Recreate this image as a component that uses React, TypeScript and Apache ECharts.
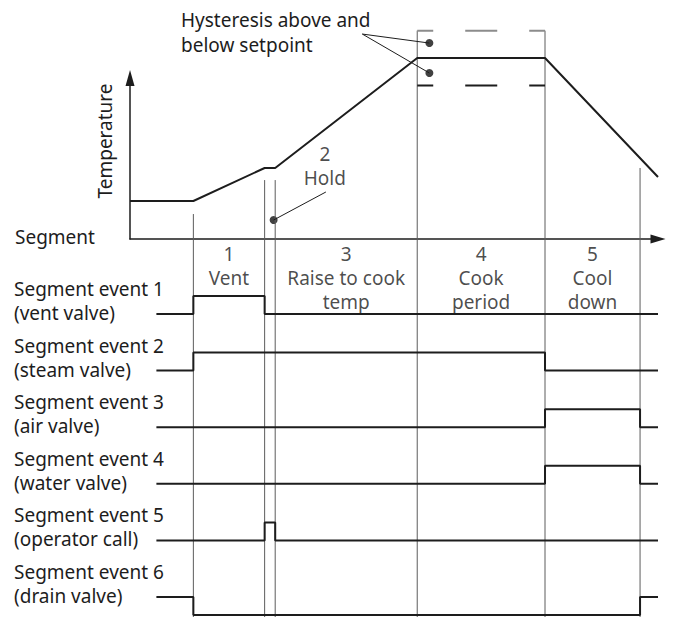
import React, { useEffect, useRef } from 'react';
import * as echarts from 'echarts';

// ---- data ----
// time axis runs 0..100 (arbitrary process time units)
const segmentBounds = [5, 12, 25.5, 27.5, 54.4, 78.6, 96.6, 100];
const tempTimes = [0, 12, 25.5, 27.5, 54.4, 78.6, 100];
const tempValues = [23.6, 23.6, 44.1, 44.1, 112.4, 112.4, 38.5];
const setpoint = 112.4;
const hysteresis = 17;
const hysteresisMarks = [121.7, 103.1];
const hysteresisMarkTime = 56.7;
const holdMark = [27.2, 11.8];
const boundaryTopTemps = [15.5, 36.6, 36.6, 129.4, 129.4, 44.1];

const eventNames = [
  'Segment event 1',
  'Segment event 2',
  'Segment event 3',
  'Segment event 4',
  'Segment event 5',
  'Segment event 6',
];
const eventDevices = [
  '(vent valve)',
  '(steam valve)',
  '(air valve)',
  '(water valve)',
  '(operator call)',
  '(drain valve)',
];
// state per interval between segmentBounds
const eventStates = [
  [0, 1, 0, 0, 0, 0, 0],
  [0, 1, 1, 1, 1, 0, 0],
  [0, 0, 0, 0, 0, 1, 0],
  [0, 0, 0, 0, 0, 1, 0],
  [0, 0, 1, 0, 0, 0, 0],
  [1, 0, 0, 0, 0, 0, 1],
];
const segmentLabels = ['1\nVent', '3\nRaise to cook\ntemp', '4\nCook\nperiod', '5\nCool\ndown'];
const labelledIntervals = [1, 3, 4, 5];
const holdLabel = '2\nHold';
const hysteresisText = ['Hysteresis above and', 'below setpoint'];

// ---- layout ----
const FONT = 'Noto Sans';
const FS = 19;
const INK = '#1d1d1d';
const GRID_INK = '#5c5c5c';
const ROW0 = 75;
const ROW_GAP = 56.6;
const AMP = 18;
const SIG_BOTTOM = 378;

export default function App() {
  const ref = useRef<HTMLDivElement>(null);

  useEffect(() => {
    if (!ref.current) return;
    const chart = echarts.init(ref.current, undefined, { renderer: 'svg' });

    const series: any[] = [];

    // boundary lines
    segmentBounds.slice(1, 7).forEach((t, i) => {
      series.push({
        type: 'line', xAxisIndex: 0, yAxisIndex: 0, clip: false, symbol: 'none', silent: true,
        data: [[t, boundaryTopTemps[i]], [t, 0]],
        lineStyle: { color: GRID_INK, width: 1 },
      });
      series.push({
        type: 'line', xAxisIndex: 1, yAxisIndex: 1, clip: false, symbol: 'none', silent: true,
        data: [[t, 0], [t, SIG_BOTTOM]],
        lineStyle: { color: GRID_INK, width: 1 },
      });
    });

    // hysteresis band (dashed)
    const bandStart = segmentBounds[4];
    const bandEnd = segmentBounds[5];
    [
      { v: setpoint + hysteresis, c: '#8c8c8c' },
      { v: setpoint - hysteresis, c: INK },
    ].forEach((b) => {
      series.push({
        type: 'line', xAxisIndex: 0, yAxisIndex: 0, clip: false, symbol: 'none', silent: true,
        data: [[bandStart, b.v], [bandEnd, b.v]],
        lineStyle: { color: b.c, width: 2, type: [32, 32], dashOffset: 16 },
      });
    });

    // temperature profile
    series.push({
      type: 'line', xAxisIndex: 0, yAxisIndex: 0, clip: false, symbol: 'none', silent: true,
      data: tempTimes.map((t, i) => [t, tempValues[i]]),
      lineStyle: { color: INK, width: 2 },
    });

    // leaders
    const leaderStart = [44, 127.3];
    hysteresisMarks.forEach((v) => {
      series.push({
        type: 'line', xAxisIndex: 0, yAxisIndex: 0, clip: false, symbol: 'none', silent: true,
        data: [leaderStart, [hysteresisMarkTime, v]],
        lineStyle: { color: INK, width: 1 },
      });
    });
    series.push({
      type: 'line', xAxisIndex: 0, yAxisIndex: 0, clip: false, symbol: 'none', silent: true,
      data: [[37.1, 29.2], holdMark],
      lineStyle: { color: INK, width: 1 },
    });
    series.push({
      type: 'scatter', xAxisIndex: 0, yAxisIndex: 0, clip: false, silent: true,
      symbolSize: 8,
      itemStyle: { color: '#111' },
      data: [...hysteresisMarks.map((v) => [hysteresisMarkTime, v]), holdMark],
    });

    // hold label
    series.push({
      type: 'scatter', xAxisIndex: 0, yAxisIndex: 0, clip: false, silent: true,
      symbolSize: 0,
      itemStyle: { color: 'transparent' },
      data: [[36.9, 45.3]],
      label: {
        show: true, position: 'inside', formatter: holdLabel,
        fontFamily: FONT, fontSize: FS, lineHeight: 24, color: INK, align: 'center', verticalAlign: 'middle',
      },
    });

    // segment labels
    series.push({
      type: 'scatter', xAxisIndex: 1, yAxisIndex: 1, clip: false, silent: true,
      symbolSize: 0,
      itemStyle: { color: 'transparent' },
      data: labelledIntervals.map((k) => [(segmentBounds[k] + segmentBounds[k + 1]) / 2, 2.5]),
      label: {
        show: true, position: 'inside',
        formatter: (p: any) => segmentLabels[p.dataIndex],
        fontFamily: FONT, fontSize: FS, lineHeight: 24, color: INK, align: 'center', verticalAlign: 'top',
      },
    });

    // event traces
    eventStates.forEach((states, row) => {
      const base = ROW0 + ROW_GAP * row;
      const s0 = states[0];
      const pts: number[][] = [];
      states.forEach((s, k) => {
        const y = base - (s - s0) * AMP;
        pts.push([segmentBounds[k], y], [segmentBounds[k + 1], y]);
      });
      series.push({
        type: 'line', xAxisIndex: 1, yAxisIndex: 1, clip: false, symbol: 'none', silent: true,
        data: pts,
        lineStyle: { color: INK, width: 2 },
      });
    });

    const textStyle = (text: string, extra: any = {}) => ({
      text, fontFamily: FONT, fontSize: FS, fill: INK, ...extra,
    });

    const graphic: any[] = [];
    graphic.push({ type: 'text', x: 181, y: 20, style: textStyle(hysteresisText[0], { verticalAlign: 'middle' }) });
    graphic.push({ type: 'text', x: 181, y: 45, style: textStyle(hysteresisText[1], { verticalAlign: 'middle' }) });
    graphic.push({ type: 'text', x: 15, y: 237, style: textStyle('Segment', { verticalAlign: 'middle' }) });
    graphic.push({
      type: 'text', x: 105, y: 141, rotation: Math.PI / 2,
      style: textStyle('Temperature', { align: 'center', verticalAlign: 'middle' }),
    });
    eventNames.forEach((name, i) => {
      const b = 239 + ROW0 + ROW_GAP * i;
      graphic.push({ type: 'text', x: 14, y: b - 25, style: textStyle(name, { verticalAlign: 'middle' }) });
      graphic.push({ type: 'text', x: 14, y: b - 1, style: textStyle(eventDevices[i], { verticalAlign: 'middle' }) });
    });

    chart.setOption({
      animation: false,
      backgroundColor: '#ffffff',
      grid: [
        { left: 130, top: 78, width: 528, height: 161 },
        { left: 130, top: 239, width: 528, height: 380 },
      ],
      xAxis: [
        {
          gridIndex: 0, type: 'value', min: 0, max: 100,
          axisLine: { show: true, symbol: ['none', 'triangle'], symbolSize: [9, 15], lineStyle: { color: INK, width: 1.5 } },
          axisTick: { show: false }, axisLabel: { show: false }, splitLine: { show: false },
        },
        { gridIndex: 1, type: 'value', min: 0, max: 100, show: false },
      ],
      yAxis: [
        {
          gridIndex: 0, type: 'value', min: 0, max: 100,
          axisLine: { show: true, symbol: ['none', 'triangle'], symbolSize: [9, 16], lineStyle: { color: INK, width: 1.5 } },
          axisTick: { show: false }, axisLabel: { show: false }, splitLine: { show: false },
        },
        { gridIndex: 1, type: 'value', min: 0, max: 380, inverse: true, show: false },
      ],
      series,
      graphic,
    });

    return () => chart.dispose();
  }, []);

  return (
    <div
      ref={ref}
      style={{ position: 'fixed', left: 0, top: 0, width: 673, height: 619, background: '#fff' }}
    />
  );
}
